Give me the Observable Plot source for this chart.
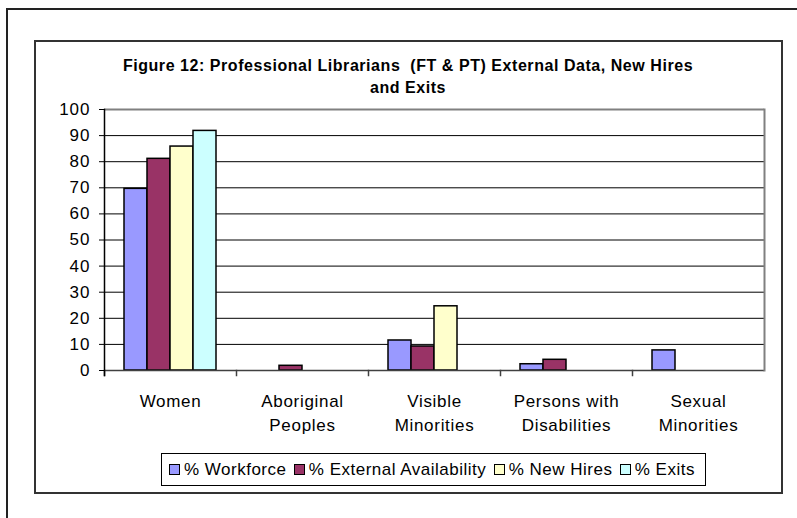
<!DOCTYPE html>
<html><head><meta charset="utf-8">
<script src="https://cdn.jsdelivr.net/npm/d3@7"></script>
<script src="https://cdn.jsdelivr.net/npm/@observablehq/plot@0.6"></script>
<style>
html,body{margin:0;padding:0;background:#fff;}
body{width:797px;height:518px;position:relative;overflow:hidden;font-family:"Liberation Sans",Arial,sans-serif;color:#000;}
#outer{position:absolute;left:6px;top:8px;width:820px;height:540px;border:2px solid #222;}
#inner{position:absolute;left:34px;top:40px;width:745px;height:450px;border:2px solid #333;}
#title{position:absolute;left:35px;top:55px;width:746px;text-align:center;font-weight:bold;font-size:16px;letter-spacing:0.55px;line-height:22px;white-space:pre;}
#chart{position:absolute;left:35px;top:95px;}
#chart svg{overflow:visible;}
#chart g[aria-label="fx-axis tick label"] text{letter-spacing:0.7px;}
#chart g[aria-label="y-axis tick label"] text{letter-spacing:1px;}
#legend{position:absolute;left:161px;top:453px;width:545px;height:33px;box-sizing:border-box;border:1px solid #000;display:flex;align-items:center;justify-content:space-between;padding:0 10px 0 7px;font-size:17px;letter-spacing:0.5px;}
#legend .item{display:flex;align-items:center;white-space:pre;}
#legend .sw{width:11px;height:11px;box-sizing:border-box;border:1px solid #000;margin-right:4px;}
</style>
</head><body>
<div id="outer"></div>
<div id="inner"></div>
<div id="title"></div>
<div id="chart"></div>
<div id="legend"></div>
<script>
const titleLines = ["Figure 12: Professional Librarians  (FT & PT) External Data, New Hires", "and Exits"];
const categories = ["Women", "Aboriginal Peoples", "Visible Minorities", "Persons with Disabilities", "Sexual Minorities"];
const categoryLabels = ["Women", "Aboriginal\nPeoples", "Visible\nMinorities", "Persons with\nDisabilities", "Sexual\nMinorities"];
const seriesNames = ["% Workforce", "% External Availability", "% New Hires", "% Exits"];
const workforce = [69.6, null, 11.5, 2.4, 7.7];
const externalAvailability = [81.1, 1.8, 9.2, 4.1, null];
const newHires = [85.8, null, 24.6, null, null];
const exits = [91.8, null, null, null, null];
const seriesColors = ["#9999ff", "#993366", "#ffffcc", "#ccffff"];
const yTicks = [0, 10, 20, 30, 40, 50, 60, 70, 80, 90, 100];

document.getElementById("title").textContent = titleLines.join("\n");

const seriesValues = [workforce, externalAvailability, newHires, exits];
const rows = [];
categories.forEach((c, i) => seriesNames.forEach((s, j) => {
  const v = seriesValues[j][i];
  if (v != null) rows.push({category: c, series: s, value: v});
}));

const chart = Plot.plot({
  width: 746, height: 345,
  marginLeft: 67, marginRight: 15, marginTop: 14, marginBottom: 70,
  style: {background: "none", color: "black", fontFamily: "'Liberation Sans', Arial, sans-serif", fontSize: "17px", overflow: "visible"},
  fx: {domain: categories, padding: 0, label: null},
  x: {domain: seriesNames, paddingInner: 0, paddingOuter: 0.77, axis: null, label: null},
  y: {domain: [0, 100], label: null},
  color: {domain: seriesNames, range: seriesColors},
  marks: [
    Plot.ruleY(yTicks.filter(t => t > 0 && t < 100), {stroke: "black", strokeWidth: 1}),
    Plot.barY(rows, {fx: "category", x: "series", y: "value", fill: "series", stroke: "black", strokeWidth: 1.5}),
    Plot.ruleY([100], {stroke: "#808080", strokeWidth: 2}),
    Plot.ruleY([0], {stroke: "#404040", strokeWidth: 1.5}),
    Plot.frame({anchor: "right", facetAnchor: "right", stroke: "#808080", strokeWidth: 2}),
    Plot.frame({anchor: "left", insetTop: 261, insetBottom: -5, stroke: "#404040", strokeWidth: 1.5}),
    Plot.frame({anchor: "left", facetAnchor: "left", insetBottom: -5, stroke: "black", strokeWidth: 1.5}),
    Plot.axisY({ticks: yTicks, tickSize: 5, tickPadding: 9, fontSize: 17, label: null}),
    Plot.axisFx({anchor: "bottom", tickSize: 0, tickPadding: 20, fontSize: 17, lineHeight: 1.4, label: null,
      tickFormat: c => categoryLabels[categories.indexOf(c)]})
  ]
});
document.getElementById("chart").appendChild(chart);

const legend = document.getElementById("legend");
seriesNames.forEach((s, j) => {
  const item = document.createElement("div");
  item.className = "item";
  const sw = document.createElement("span");
  sw.className = "sw";
  sw.style.background = seriesColors[j];
  const t = document.createElement("span");
  t.textContent = s;
  item.appendChild(sw); item.appendChild(t);
  legend.appendChild(item);
});
</script>
</body></html>
